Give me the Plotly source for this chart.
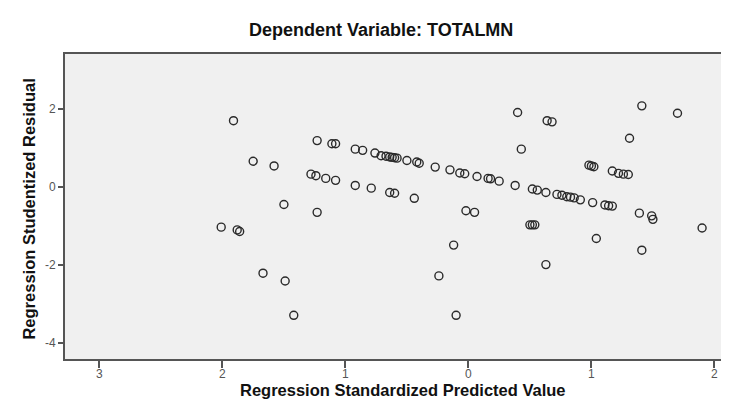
import plotly.graph_objects as go

# Regression Standardized Predicted Value
x_pred = [-1.91, -1.75, -1.58, -1.50, -2.01, -1.86, -1.88, -1.67, -1.49, -1.42,
          -1.23, -1.11, -1.08, -0.92, -0.86, -0.76, -0.71, -0.67, -0.64, -0.60,
          -0.58, -0.62, -0.50, -0.42, -0.40, -0.27, -0.15, -0.07, -0.03, 0.07,
          0.16, 0.18, 0.25, 0.38, 0.52, 0.56, 0.63, 0.72, 0.76, 0.80,
          0.83, 0.86, 0.91, 1.01, 1.11, 1.14, 1.17, 1.39, 1.49, 1.50,
          1.90, -1.28, -1.24, -1.16, -1.08, -0.92, -0.79, -0.64, -0.60, -0.44,
          -1.23, -0.02, 0.05, -0.12, -0.24, -0.10, 0.40, 0.64, 0.68, 0.43,
          1.41, 1.70, 1.31, 0.98, 1.02, 1.00, 1.17, 1.22, 1.26, 1.30,
          0.50, 0.52, 0.54, 1.04, 0.63, 1.41]
# Regression Studentized Residual
y_resid = [1.70, 0.66, 0.54, -0.45, -1.03, -1.14, -1.10, -2.21, -2.41, -3.29,
           1.19, 1.11, 1.11, 0.97, 0.94, 0.87, 0.80, 0.79, 0.77, 0.75,
           0.74, 0.76, 0.68, 0.64, 0.61, 0.51, 0.44, 0.36, 0.34, 0.27,
           0.22, 0.21, 0.15, 0.04, -0.05, -0.08, -0.14, -0.19, -0.21, -0.25,
           -0.26, -0.28, -0.33, -0.40, -0.46, -0.48, -0.49, -0.67, -0.74, -0.83,
           -1.05, 0.33, 0.29, 0.22, 0.17, 0.04, -0.03, -0.14, -0.16, -0.29,
           -0.65, -0.61, -0.65, -1.49, -2.28, -3.29, 1.91, 1.70, 1.67, 0.97,
           2.08, 1.89, 1.25, 0.56, 0.52, 0.54, 0.41, 0.35, 0.33, 0.32,
           -0.97, -0.97, -0.97, -1.32, -1.99, -1.62]

x_tickvals = [-3, -2, -1, 0, 1, 2]
x_ticktext = ["3", "2", "1", "0", "1", "2"]
y_tickvals = [2, 0, -2, -4]
y_ticktext = ["2", "0", "-2", "-4"]

title_text = "Dependent Variable: TOTALMN"
x_title = "Regression Standardized Predicted Value"
y_title = "Regression Studentized Residual"

FONT = "Liberation Sans, Arial, sans-serif"

fig = go.Figure()
fig.add_trace(go.Scatter(
    x=x_pred, y=y_resid, mode="markers",
    marker=dict(symbol="circle-open", size=8, color="#2a2a2a",
                line=dict(width=1.4, color="#2a2a2a")),
    showlegend=False, hoverinfo="x+y",
))

fig.update_layout(
    width=729, height=402,
    margin=dict(l=57, r=14, t=46, b=51),
    paper_bgcolor="white",
    plot_bgcolor="#f0f0f0",
    font=dict(family=FONT, color="#444", size=12),
    xaxis=dict(range=[-3.28, 2.07], tickvals=x_tickvals, ticktext=x_ticktext,
               showgrid=False, zeroline=False, showline=True, mirror=True,
               linecolor="#555", linewidth=2, ticks="outside", ticklen=7,
               tickwidth=1.5, tickcolor="#555", ticklabelstandoff=-4,
               tickfont=dict(size=12, color="#555", family=FONT)),
    yaxis=dict(range=[-4.41, 3.41], tickvals=y_tickvals, ticktext=y_ticktext,
               showgrid=False, zeroline=False, showline=True, mirror=True,
               linecolor="#555", linewidth=2, ticks="outside", ticklen=5,
               tickwidth=1.5, tickcolor="#555",
               tickfont=dict(size=12, color="#555", family=FONT)),
    annotations=[
        dict(text="<b>" + title_text + "</b>", xref="paper", yref="paper",
             x=0.48, y=1, yshift=24, showarrow=False, xanchor="center",
             yanchor="middle", font=dict(size=18, color="#111", family=FONT)),
        dict(text="<b>" + x_title + "</b>", xref="paper", yref="paper",
             x=0.514, y=0, yshift=-31, showarrow=False, xanchor="center",
             yanchor="middle", font=dict(size=16.5, color="#111", family=FONT)),
        dict(text="<b>" + y_title + "</b>", xref="paper", yref="paper",
             x=0, xshift=-36, y=0.49, textangle=-90, showarrow=False,
             xanchor="center", yanchor="middle",
             font=dict(size=16.5, color="#111", family=FONT)),
    ],
)

fig.write_html("out.html")
